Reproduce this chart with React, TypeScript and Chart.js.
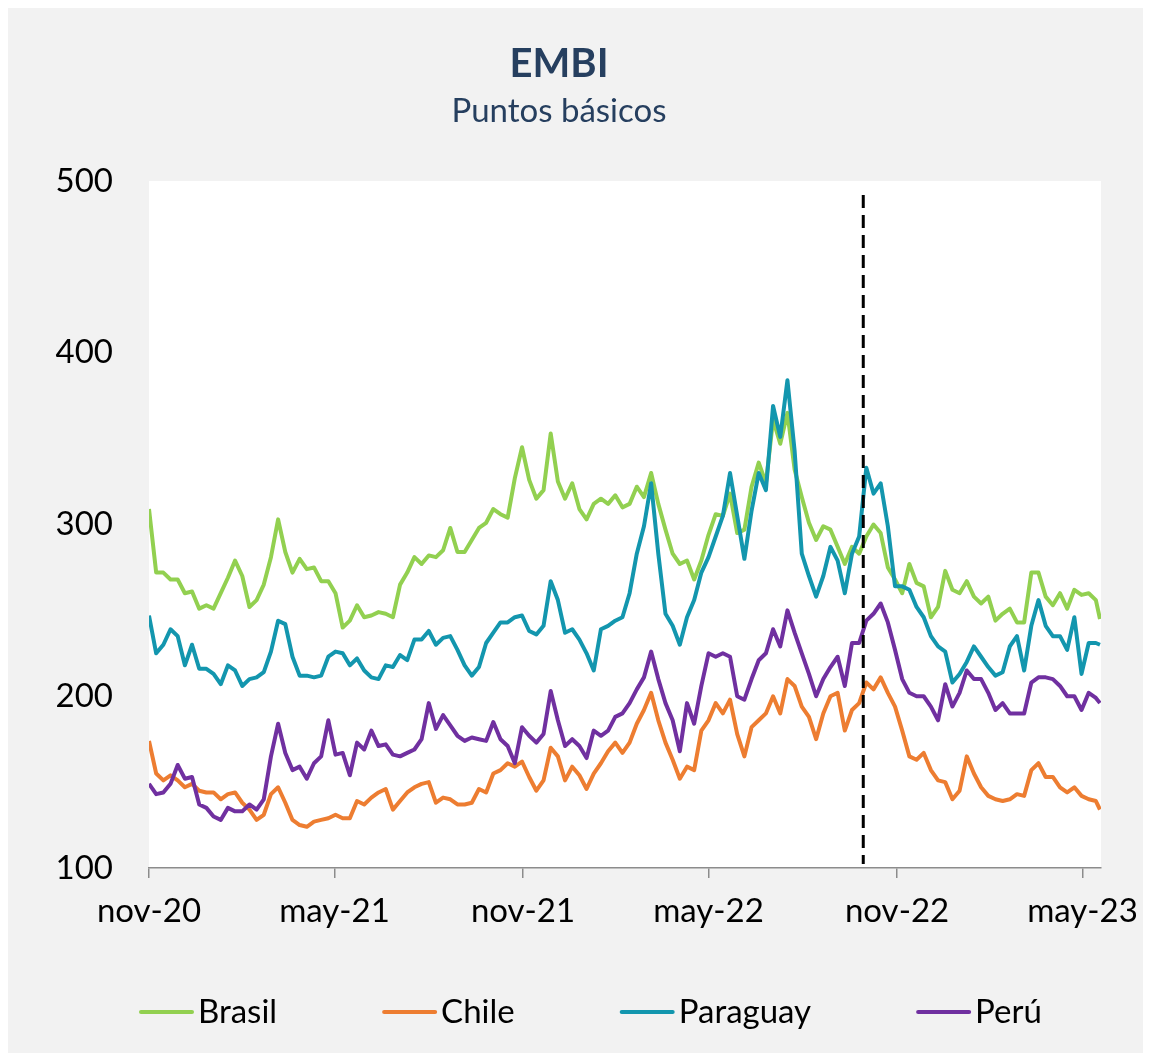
import React, { useEffect, useRef } from "react";
import { Chart, registerables } from "chart.js";

Chart.register(...registerables);

// Day offsets since 1 Nov 2020 (weekly observations, last one ~19 May 2023)
const dayOffsets: number[] = Array.from({ length: 133 }, (_, i) => i * 7).concat([928]);

// X-axis tick positions (days since 1 Nov 2020) and labels
const tickDays: number[] = [0, 181, 365, 546, 730, 911];
const tickLabels: string[] = ["nov-20", "may-21", "nov-21", "may-22", "nov-22", "may-23"];

// Dashed reference line (late Sep 2022)
const markerDay = 697;

const yTicks: number[] = [100, 200, 300, 400, 500];

const brasil: number[] = [
  309, 272, 272, 268, 268, 260, 261, 251, 253, 251, 260, 269, 279, 270, 252, 256, 265, 281, 303, 284, 272, 280, 274,
  275, 267, 267, 260, 240, 244, 253, 246, 247, 249, 248, 246, 265, 272, 281, 277, 282, 281, 285, 298, 284, 284,
  291, 298, 301, 309, 306, 304, 327, 345, 326, 315, 320, 353, 325, 315, 324, 309, 303, 312, 315, 312, 317, 310,
  312, 322, 316, 330, 312, 297, 283, 277, 279, 268, 279, 294, 306, 305, 318, 295, 297, 322, 336, 324, 361, 347, 365,
  332, 316, 301, 291, 299, 297, 287, 277, 287, 283, 293, 300, 295, 275, 268, 260, 277, 266, 264, 246, 252, 273,
  262, 260, 267, 258, 254, 258, 244, 248, 251, 243, 243, 272, 272, 258, 253, 260, 251, 262, 259, 260, 256, 245,
];

const chile: number[] = [
  174, 155, 151, 154, 151, 147, 149, 145, 144, 144, 140, 143, 144, 138, 134, 128, 131, 143, 147, 138, 128, 125, 124,
  127, 128, 129, 131, 129, 129, 139, 137, 141, 144, 146, 134, 139, 144, 147, 149, 150, 138, 141, 140, 137, 137,
  138, 146, 144, 155, 157, 161, 159, 162, 153, 145, 151, 170, 165, 151, 159, 154, 146, 155, 161, 168, 173, 167,
  173, 184, 192, 202, 186, 173, 163, 152, 159, 157, 180, 186, 196, 190, 198, 178, 165, 182, 186, 190, 200, 190, 210,
  206, 194, 188, 175, 190, 200, 202, 180, 192, 196, 208, 204, 211, 202, 194, 180, 165, 163, 167, 157, 151, 150,
  140, 145, 165, 155, 147, 142, 140, 139, 140, 143, 142, 157, 161, 153, 153, 147, 144, 147, 142, 140, 139, 134,
];

const paraguay: number[] = [
  247, 225, 230, 239, 235, 218, 230, 216, 216, 213, 207, 218, 215, 206, 210, 211, 214, 226, 244, 242, 223, 212, 212,
  211, 212, 223, 226, 225, 218, 222, 215, 211, 210, 218, 217, 224, 221, 233, 233, 238, 230, 234, 235, 227, 218,
  212, 217, 231, 237, 243, 243, 246, 247, 238, 236, 241, 267, 256, 237, 239, 233, 225, 215, 239, 241, 244, 246,
  260, 283, 299, 324, 283, 248, 241, 230, 246, 256, 272, 281, 293, 305, 330, 305, 280, 308, 330, 320, 369, 351, 384,
  343, 283, 270, 258, 270, 287, 279, 260, 283, 293, 333, 318, 324, 299, 264, 264, 262, 252, 246, 235, 229, 226,
  208, 213, 220, 229, 223, 217, 212, 214, 229, 235, 215, 241, 256, 241, 235, 235, 227, 246, 213, 231, 231, 230,
];

const peru: number[] = [
  149, 143, 144, 149, 160, 152, 153, 137, 135, 130, 128, 135, 133, 133, 137, 134, 140, 165, 184, 167, 157, 159, 152,
  161, 165, 186, 166, 167, 154, 173, 169, 180, 171, 172, 166, 165, 167, 169, 175, 196, 181, 189, 183, 177, 174,
  176, 175, 174, 185, 175, 171, 161, 182, 177, 173, 178, 203, 186, 171, 175, 171, 164, 180, 177, 180, 188, 190,
  196, 204, 211, 226, 210, 196, 186, 168, 196, 184, 206, 225, 223, 225, 223, 200, 198, 210, 221, 225, 239, 229, 250,
  237, 225, 213, 200, 210, 217, 223, 206, 231, 231, 244, 248, 254, 243, 227, 210, 202, 200, 200, 194, 186, 207,
  194, 202, 215, 210, 210, 202, 192, 196, 190, 190, 190, 208, 211, 211, 210, 206, 200, 200, 192, 202, 199, 196,
];

const seriesNames: string[] = ["Brasil", "Chile", "Paraguay", "Perú"];
const seriesColors: string[] = ["#92D050", "#ED7D31", "#1396AE", "#7030A0"];

const FONT = "Lato, 'Open Sans', sans-serif";
const NAVY = "#263F5F";
const W = 1135;
const H = 1045;

const decorPlugin = {
  id: "decor",
  beforeDraw(chart: any) {
    const { ctx, chartArea } = chart;
    ctx.save();
    ctx.fillStyle = "#F2F2F2";
    ctx.fillRect(0, 0, chart.width, chart.height);
    ctx.fillStyle = "#FFFFFF";
    ctx.fillRect(chartArea.left, chartArea.top, chartArea.right - chartArea.left, chartArea.bottom - chartArea.top);
    ctx.fillStyle = NAVY;
    ctx.textAlign = "center";
    ctx.textBaseline = "alphabetic";
    ctx.font = `bold 40px ${FONT}`;
    ctx.fillText("EMBI", 551, 69);
    ctx.font = `33px ${FONT}`;
    ctx.fillText("Puntos básicos", 551, 114);
    ctx.restore();
  },
  afterDatasetsDraw(chart: any) {
    const { ctx, chartArea, scales } = chart;
    const x = scales.x.getPixelForValue(markerDay);
    ctx.save();
    ctx.strokeStyle = "#000000";
    ctx.lineWidth = 3;
    ctx.setLineDash([13, 7]);
    ctx.beginPath();
    ctx.moveTo(x, chartArea.top + 14);
    ctx.lineTo(x, chartArea.bottom - 4);
    ctx.stroke();
    ctx.restore();
  },
  afterDraw(chart: any) {
    const { ctx } = chart;
    ctx.save();
    ctx.font = `33px ${FONT}`;
    ctx.textBaseline = "alphabetic";
    ctx.textAlign = "left";
    let x = 131;
    const lineY = 1004;
    const baseY = 1015;
    chart.data.datasets.forEach((ds: any) => {
      ctx.strokeStyle = ds.borderColor;
      ctx.lineWidth = 4;
      ctx.lineCap = "round";
      ctx.beginPath();
      ctx.moveTo(x + 2, lineY);
      ctx.lineTo(x + 53, lineY);
      ctx.stroke();
      ctx.fillStyle = "#000000";
      ctx.fillText(ds.label, x + 59, baseY);
      const tw = ctx.measureText(ds.label).width;
      x += 59 + tw + 105;
    });
    ctx.restore();
  },
};

export default function App() {
  const canvasRef = useRef<HTMLCanvasElement | null>(null);

  useEffect(() => {
    if (!canvasRef.current) return;
    const allSeries = [brasil, chile, paraguay, peru];
    const chart = new Chart(canvasRef.current, {
      type: "line",
      data: {
        datasets: allSeries.map((vals, k) => ({
          label: seriesNames[k],
          data: vals.map((v, i) => ({ x: dayOffsets[i], y: v })),
          borderColor: seriesColors[k],
          backgroundColor: seriesColors[k],
          borderWidth: 4,
          pointRadius: 0,
          tension: 0,
          borderJoinStyle: "round" as const,
          order: 4 - k,
        })),
      },
      options: {
        animation: false,
        responsive: false,
        devicePixelRatio: 1,
        layout: { padding: { left: 0, right: 42, top: 173, bottom: 105 } },
        plugins: {
          legend: { display: false },
          title: { display: false },
          tooltip: { enabled: false },
        },
        scales: {
          x: {
            type: "linear",
            min: 0,
            max: 929,
            afterFit: (s: any) => {
              s.height = 80;
              s.paddingLeft = 0;
              s.paddingRight = 0;
            },
            afterBuildTicks: (s: any) => {
              s.ticks = tickDays.map((v) => ({ value: v }));
            },
            border: { display: true, color: "#8C8C8C", width: 1.5 },
            grid: {
              display: true,
              drawOnChartArea: false,
              drawTicks: true,
              tickLength: 10,
              color: "#8C8C8C",
              lineWidth: 1.5,
            },
            ticks: {
              autoSkip: false,
              maxRotation: 0,
              padding: 14,
              color: "#000000",
              font: { family: FONT, size: 33 },
              callback: (value: any) => {
                const idx = tickDays.indexOf(Number(value));
                return idx >= 0 ? tickLabels[idx] : "";
              },
            },
          },
          y: {
            min: 100,
            max: 500,
            afterFit: (s: any) => {
              s.width = 141;
              s.paddingTop = 0;
              s.paddingBottom = 0;
            },
            afterBuildTicks: (s: any) => {
              s.ticks = yTicks.map((v) => ({ value: v }));
            },
            border: { display: false },
            grid: { display: false, drawTicks: false },
            ticks: {
              padding: 36,
              color: "#000000",
              font: { family: FONT, size: 33 },
            },
          },
        },
      },
      plugins: [decorPlugin],
    });
    return () => chart.destroy();
  }, []);

  return (
    <div style={{ width: W, height: H, background: "#F2F2F2" }}>
      <canvas ref={canvasRef} width={W} height={H} style={{ display: "block", width: W, height: H }} />
    </div>
  );
}
